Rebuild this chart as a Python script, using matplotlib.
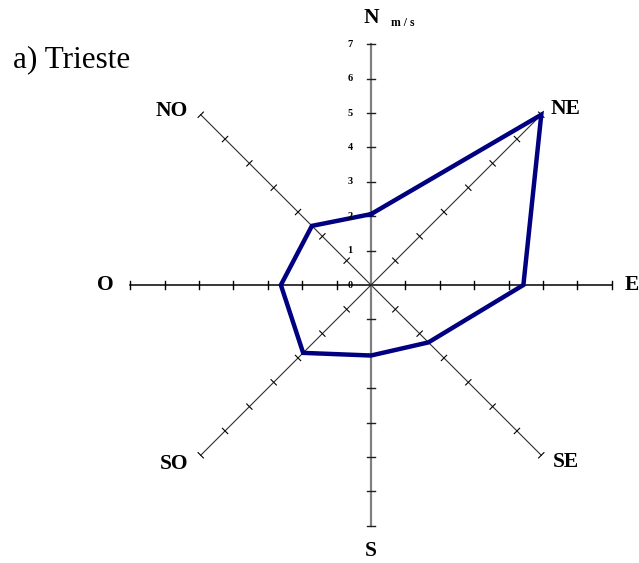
import numpy as np
import matplotlib
matplotlib.use("Agg")
import matplotlib.pyplot as plt

# wind directions (clockwise from north) and mean speed in m/s
directions = ['N', 'NE', 'E', 'SE', 'S', 'SO', 'O', 'NO']
speeds = [2.06, 7.0, 4.43, 2.36, 2.05, 2.79, 2.62, 2.43]
tick_values = [0, 1, 2, 3, 4, 5, 6, 7]
title = 'a) Trieste'
unit = 'm / s'

plt.rcParams['font.family'] = ['Liberation Serif', 'DejaVu Serif']

W, H, DPI = 639, 563, 100
cx, cy = 371, 285          # centre of the rose in pixels (from top-left)
px_per_unit = 34.4
rmax = tick_values[-1]

fig = plt.figure(figsize=(W / DPI, H / DPI), dpi=DPI)
ax = fig.add_axes([0, 0, 1, 1])
ax.set_xlim(-cx / px_per_unit, (W - cx) / px_per_unit)
ax.set_ylim(-(H - cy) / px_per_unit, cy / px_per_unit)
ax.set_aspect('equal')
ax.axis('off')

angles = np.deg2rad(np.arange(len(directions)) * 45.0)  # 0 = north, clockwise
ux, uy = np.sin(angles), np.cos(angles)

# axes of the rose: N-S grey, E-O black, diagonals thin
axis_style = {
    'N': ('#808080', 1.6), 'S': ('#808080', 1.6),
    'E': ('black', 1.1), 'O': ('black', 1.1),
}
tick_half = 0.11
for d, x, y in zip(directions, ux, uy):
    color, lw = axis_style.get(d, ('#303030', 0.8))
    ax.plot([0, rmax * x], [0, rmax * y], color=color, lw=lw, zorder=1)
    # small perpendicular ticks at each unit
    px, py = -y, x
    for r in tick_values[1:]:
        ax.plot([r * x - tick_half * px, r * x + tick_half * px],
                [r * y - tick_half * py, r * y + tick_half * py],
                color='#202020' if d in ('N', 'S') else 'black',
                lw=1.0 if lw > 1 else 0.8, zorder=1)

# speed polygon
xs = np.array(speeds) * ux
ys = np.array(speeds) * uy
ax.plot(np.append(xs, xs[0]), np.append(ys, ys[0]), color='#000080',
        lw=3.2, solid_joinstyle='miter', zorder=3)

# tick labels along the north axis
for v in tick_values:
    ax.annotate(str(v), (0, v), xytext=(-15, 0), textcoords='offset points',
                ha='center', va='center', fontsize=7.5, fontweight='bold')

# direction labels placed just beyond the axis ends
label_offsets = {
    'N': (0, 19, 'center'), 'NE': (7, 4, 'left'), 'E': (9, 0, 'left'),
    'SE': (8, -5, 'left'), 'S': (0, -18, 'center'), 'SO': (-9, -6, 'right'),
    'O': (-12, 0, 'right'), 'NO': (-9, 3, 'right'),
}
for d, x, y in zip(directions, ux, uy):
    dx, dy, ha = label_offsets[d]
    ax.annotate(d, (rmax * x, rmax * y), xytext=(dx, dy),
                textcoords='offset points', ha=ha, va='center',
                fontsize=15.5, fontweight='bold')

ax.annotate(unit, (0, rmax), xytext=(23, 15), textcoords='offset points',
            ha='center', va='center', fontsize=8.5, fontweight='bold')

fig.text(13 / W, 1 - 67 / H, title, ha='left', va='baseline', fontsize=22.5)

fig.savefig('out.png', dpi=DPI)
